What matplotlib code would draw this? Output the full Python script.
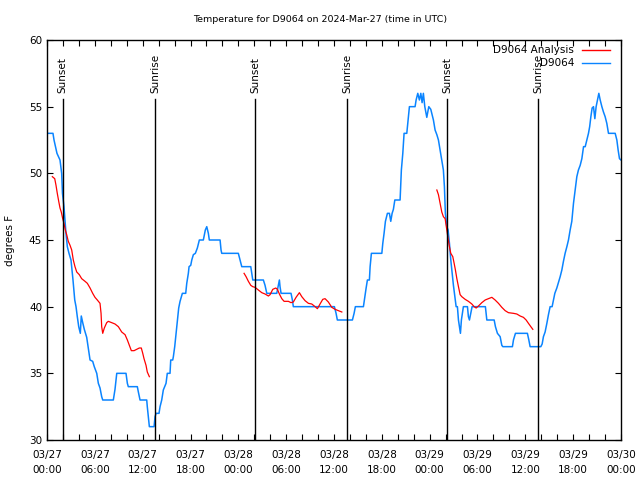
import matplotlib
matplotlib.use("Agg")
import matplotlib.pyplot as plt
from matplotlib.lines import Line2D
import numpy as np

# hours since 2024-03-27 00:00 UTC
obs_t = [0.0, 0.75, 0.88, 1.07, 1.25, 1.63, 1.84, 1.94, 2.13, 2.26, 2.38, 2.55, 2.76, 3.01, 3.26, 3.48,
         3.64, 3.80, 3.98, 4.18, 4.30, 4.48, 4.68, 4.98, 5.18, 5.40, 5.73, 5.93, 6.24, 6.44, 6.65, 6.86,
         6.99, 8.32, 8.53, 8.75, 9.91, 10.08, 10.2, 11.33, 11.46, 11.67, 12.51, 12.58, 12.71, 12.84,
         13.43, 13.55, 13.68, 14.05, 14.18, 14.39, 14.59, 14.93, 15.09, 15.43, 15.52, 15.77, 15.85,
         16.02, 16.19, 16.35, 16.52, 16.69, 16.98, 17.40, 17.53, 17.73, 17.82, 18.03, 18.16, 18.36,
         18.61, 18.86, 19.11, 19.61, 19.86, 20.04, 20.24, 20.36, 21.71, 21.83, 21.92, 24.0, 24.22,
         24.43, 25.56, 25.69, 25.81, 27.14, 27.35, 27.57, 28.82, 29.02, 29.15, 29.23, 29.36, 30.61,
         30.78, 30.90, 36.05, 36.26, 36.42, 38.31, 38.52, 38.68, 39.69, 39.86, 40.03, 40.19, 40.44,
         40.53, 40.69, 42.0, 42.12, 42.28, 42.45, 42.70, 42.95, 43.12, 43.29, 43.45, 43.63, 44.29,
         44.45, 44.63, 44.79, 45.13, 45.30, 45.46, 46.17, 46.30, 46.51, 46.71, 46.89, 47.05, 47.21,
         47.39, 47.64, 47.89, 48.14, 48.47, 48.68, 48.90, 49.10, 49.31, 49.52, 49.72, 49.85, 49.97,
         50.15, 50.31, 50.48, 50.65, 50.82, 50.98, 51.16, 51.32, 51.48, 51.61, 51.73, 51.86, 51.98,
         52.11, 52.23, 52.74, 52.86, 52.99, 53.16, 53.32, 54.99, 55.17, 56.09, 56.25, 56.50, 56.84,
         57.05, 57.18, 58.38, 58.51, 58.76, 60.26, 60.44, 60.60, 61.94, 62.11, 62.27, 62.48, 62.70,
         62.90, 63.11, 63.36, 63.53, 63.70, 63.95, 64.12, 64.37, 64.58, 64.78, 64.99, 65.21, 65.41,
         65.62, 65.83, 66.04, 66.25, 66.46, 66.66, 66.88, 67.09, 67.30, 67.51, 67.72, 67.92, 68.07,
         68.22, 68.38, 68.55, 68.72, 68.88, 69.05, 69.22, 69.39, 69.60, 69.80, 70.01, 70.22, 70.43,
         71.27, 71.48, 71.64, 71.81, 72.0]
obs_v = [53, 53, 52.5, 52, 51.5, 51, 50, 48.5, 47.5, 46.5, 45.5, 44.5, 44, 43.5, 42, 40.5,
         40, 39.25, 38.5, 38, 39.3, 38.8, 38.3, 37.7, 36.9, 36, 35.9, 35.5, 35, 34.25, 33.9, 33.25,
         33, 33, 33.8, 35, 35, 34.25, 34, 34, 33.6, 33, 33, 32.5, 31.75, 31,
         31, 31.75, 32, 32, 32.5, 33, 33.75, 34.25, 35, 35, 36, 36, 36.25,
         37, 38, 39, 39.9, 40.4, 41, 41, 41.75, 42.5, 43, 43.1, 43.5, 43.9,
         44, 44.4, 45, 45, 45.75, 46, 45.5, 45, 45, 44.25, 44, 44, 43.5,
         43, 43, 42.5, 42, 42, 41.6, 41, 41, 41.6, 42, 41.5, 41, 41,
         40.5, 40, 40, 39.5, 39, 39, 39.5, 40, 40, 40.7, 41.4, 42, 42,
         43, 44, 44, 44.75, 45.5, 46.4, 47, 47, 46.4, 47, 47.3, 48, 48,
         50.25, 51.5, 53, 53, 54, 55, 55, 55.5, 56, 55.5, 56, 55.3, 56,
         55, 54.2, 55, 54.8, 54, 53.25, 52.9, 52.5, 51.75, 51, 50.25, 49, 47,
         46, 45.75, 44.75, 43.5, 42.5, 41.6, 40.75, 40, 40, 39, 38.5, 38, 39,
         39.5, 40, 40, 39.25, 39, 39.5, 40, 40, 39, 39, 38.5, 38, 37.75,
         37.1, 37, 37, 37.5, 38, 38, 37.5, 37, 37, 37.2, 37.75, 38.1, 38.75,
         39.4, 40, 40, 40.5, 41, 41.4, 41.75, 42.25, 42.75, 43.4, 44, 44.5, 45,
         45.75, 46.4, 47.75, 48.75, 49.75, 50.25, 50.6, 51.1, 52, 52, 52.5, 53, 53.5,
         54.25, 54.9, 55, 54.1, 55, 55.5, 56, 55.5, 55, 54.6, 54.25, 53.75, 53,
         53, 52.5, 51.75, 51.1, 51]

ana1_t = [0.67, 0.97, 1.13, 1.29, 1.47, 1.63, 1.79, 1.97, 2.13, 2.30, 2.47, 2.67, 2.89, 3.10, 3.30,
          3.51, 3.73, 4.05, 4.35, 4.77, 5.06, 5.40, 5.73, 6.02, 6.31, 6.65, 6.78, 6.86, 6.99, 7.19,
          7.49, 7.69, 8.12, 8.53, 8.95, 9.37, 9.79, 10.08, 10.33, 10.58, 10.92, 11.25, 11.58, 11.83,
          12.01, 12.17, 12.42, 12.58, 12.84]
ana1_v = [49.75, 49.6, 49.1, 48.5, 47.9, 47.4, 47.1, 46.6, 46.25, 45.75, 45.4, 44.9, 44.6, 44.25, 43.5,
          43.0, 42.6, 42.4, 42.1, 41.9, 41.75, 41.4, 41.0, 40.7, 40.5, 40.25, 39.5, 38.5, 38.0, 38.4,
          38.8, 38.9, 38.8, 38.7, 38.5, 38.1, 37.9, 37.5, 37.1, 36.7, 36.7, 36.8, 36.9, 36.9,
          36.5, 36.1, 35.6, 35.1, 34.75]
ana2_t = [24.72, 24.97, 25.26, 25.56, 25.81, 26.10, 26.51, 26.94, 27.35, 27.77, 27.98, 28.32, 28.70,
          28.90, 29.15, 29.45, 29.74, 30.28, 30.61, 30.90, 31.24, 31.66, 31.96, 32.37, 32.79, 33.21,
          33.63, 33.92, 34.25, 34.59, 34.88, 35.29, 35.72, 36.14, 36.55, 36.98]
ana2_v = [42.5, 42.25, 41.9, 41.6, 41.5, 41.45, 41.25, 41.05, 40.95, 40.8, 40.9, 41.3, 41.4,
          41.3, 40.95, 40.6, 40.4, 40.4, 40.3, 40.35, 40.7, 41.05, 40.75, 40.45, 40.25, 40.2,
          40.0, 39.85, 40.2, 40.55, 40.6, 40.35, 39.95, 39.8, 39.7, 39.6]
ana3_t = [48.90, 49.10, 49.31, 49.52, 49.72, 49.94, 50.15, 50.31, 50.48, 50.65, 50.90, 51.07, 51.23,
          51.41, 51.61, 51.82, 52.03, 52.45, 52.86, 53.29, 53.58, 53.83, 54.12, 54.54, 54.96, 55.37,
          55.80, 56.21, 56.63, 57.05, 57.47, 57.88, 58.51, 58.93, 59.35, 59.76, 60.10, 60.39, 60.69,
          60.94]
ana3_v = [48.75, 48.4, 47.75, 47.1, 46.75, 46.6, 45.75, 45.1, 44.5, 44.0, 43.75, 43.25, 42.75,
          42.1, 41.5, 40.9, 40.75, 40.55, 40.4, 40.2, 40.0, 39.9, 40.05, 40.3, 40.5, 40.6,
          40.7, 40.5, 40.25, 39.95, 39.7, 39.55, 39.5, 39.45, 39.3, 39.2, 39.0, 38.75, 38.5,
          38.3]

sun_t = [1.97, 13.6, 26.1, 37.65, 50.2, 61.6]
sun_lbl = ["Sunset", "Sunrise", "Sunset", "Sunrise", "Sunset", "Sunrise"]

xtick_pos = [0, 6, 12, 18, 24, 30, 36, 42, 48, 54, 60, 66, 72]
xtick_lbl = ["03/27\n00:00", "03/27\n06:00", "03/27\n12:00", "03/27\n18:00",
             "03/28\n00:00", "03/28\n06:00", "03/28\n12:00", "03/28\n18:00",
             "03/29\n00:00", "03/29\n06:00", "03/29\n12:00", "03/29\n18:00",
             "03/30\n00:00"]
ytick_pos = [30, 35, 40, 45, 50, 55, 60]

plt.rcParams['font.family'] = ['DejaVu Sans']
FS = 7.5
RED = '#ff0000'
BLUE = '#0a84ff'

fig = plt.figure(figsize=(6.4, 4.8), dpi=100)
ax = fig.add_axes([47/640, 40/480, 574/640, 400/480])
ax.set_xlim(0, 72)
ax.set_ylim(30, 60)

# analysis segments joined with gaps
at = ana1_t + [np.nan] + ana2_t + [np.nan] + ana3_t
av = ana1_v + [np.nan] + ana2_v + [np.nan] + ana3_v
ax.plot(at, av, color=RED, lw=0.9, zorder=3)
ax.plot(obs_t, obs_v, color=BLUE, lw=1.1, zorder=2)

for t, lbl in zip(sun_t, sun_lbl):
    ax.plot([t, t], [30, 55.6], color='black', lw=1.0, zorder=4)
    ax.text(t, 56.0, lbl, rotation=90, ha='center', va='bottom', fontsize=FS)

ax.set_xticks(np.arange(0, 73, 2), minor=True)
ax.set_xticks(xtick_pos)
ax.set_xticklabels(xtick_lbl, fontsize=FS, linespacing=1.7)
ax.set_yticks(ytick_pos)
ax.set_yticklabels([str(v) for v in ytick_pos], fontsize=FS)
ax.tick_params(axis='both', which='both', direction='in', top=True, right=True,
               length=4, width=0.8)
ax.tick_params(axis='x', which='major', pad=7)
for s in ax.spines.values():
    s.set_linewidth(1.0)

ax.set_ylabel("degrees F", fontsize=FS, labelpad=10)
fig.text(0.5, 1 - 19/480, "Temperature for D9064 on 2024-Mar-27 (time in UTC)",
         ha='center', va='center', fontsize=6.8)

# legend (gnuplot style: text right-aligned, sample to the right)
leg = [("D9064 Analysis", RED, 0.975), ("D9064", BLUE, 0.9425)]
for lbl, col, yy in leg:
    ax.text(0.918, yy, lbl, transform=ax.transAxes, ha='right', va='center', fontsize=FS)
    ax.add_line(Line2D([0.932, 0.981], [yy, yy], transform=ax.transAxes, color=col, lw=1.0))

fig.savefig("out.png", dpi=100)
